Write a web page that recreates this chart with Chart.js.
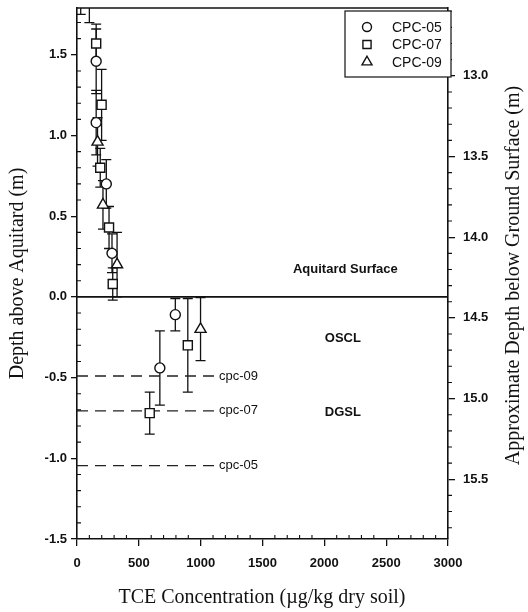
<!DOCTYPE html>
<html><head><meta charset="utf-8">
<script src="https://cdn.jsdelivr.net/npm/chart.js@4/dist/chart.umd.min.js"></script>
<style>html,body{margin:0;padding:0;background:#fff}#wrap{width:528px;height:612px;position:relative}</style>
</head><body><div id="wrap"><canvas id="c" width="528" height="612"></canvas></div>
<script>
// ---- data ----
const seriesNames = ['CPC-05', 'CPC-07', 'CPC-09'];
const cpc05X = [100, 155, 155, 237, 283, 795, 670];
const cpc05Y = [1.95, 1.46, 1.08, 0.70, 0.27, -0.11, -0.44];
const cpc05Err = [0.25, 0.20, 0.20, 0.15, 0.12, 0.10, 0.23];
const cpc07X = [155, 199, 188, 259, 289, 896, 588];
const cpc07Y = [1.57, 1.19, 0.80, 0.43, 0.08, -0.30, -0.72];
const cpc07Err = [0.12, 0.22, 0.12, 0.13, 0.10, 0.29, 0.13];
const cpc09X = [30, 166, 210, 324, 999];
const cpc09Y = [1.95, 0.96, 0.57, 0.20, -0.20];
const cpc09Err = [0.20, 0.15, 0.15, 0.20, 0.195];
const boundaryNames = ['cpc-09', 'cpc-07', 'cpc-05'];
const boundaryDepth = [-0.49, -0.706, -1.045];
const boundaryEndX = [1140, 1140, 1140];
const xTicks = [0, 500, 1000, 1500, 2000, 2500, 3000];
const yTicks = [-1.5, -1.0, -0.5, 0.0, 0.5, 1.0, 1.5];
const y2Ticks = [13.0, 13.5, 14.0, 14.5, 15.0, 15.5];
const surfaceDepth = 14.37; // ground depth of aquitard surface (m)
const zoneLabels = ['Aquitard Surface', 'OSCL', 'DGSL'];
const zoneX = [2170, 2150, 2150];
const zoneY = [0.17, -0.26, -0.715];

const Y_MIN = -1.5, Y_MAX = 1.79;
const X_MIN = 0, X_MAX = 3000;

function pts(xs, ys) { return xs.map((x, i) => ({x: x, y: ys[i]})); }

const markerDefs = [
  {style: 'circle', r: 5},
  {style: 'rect', r: 6.4},
  {style: 'triangle', r: 6.4}
];
const seriesX = [cpc05X, cpc07X, cpc09X];
const seriesY = [cpc05Y, cpc07Y, cpc09Y];
const seriesErr = [cpc05Err, cpc07Err, cpc09Err];

const datasets = seriesNames.map((n, i) => ({
  type: 'scatter',
  label: n,
  data: pts(seriesX[i], seriesY[i]),
  errors: seriesErr[i],
  pointStyle: markerDefs[i].style,
  pointRadius: markerDefs[i].r,
  pointHoverRadius: markerDefs[i].r,
  pointBackgroundColor: '#fff',
  pointBorderColor: '#111',
  pointBorderWidth: 1.4,
  showLine: false
}));
boundaryNames.forEach((n, i) => {
  datasets.push({
    type: 'line', label: n, boundary: true,
    data: [{x: X_MIN, y: boundaryDepth[i]}, {x: boundaryEndX[i], y: boundaryDepth[i]}],
    borderColor: '#222', borderWidth: 1.3, borderDash: [11, 7],
    pointRadius: 0, fill: false
  });
});
datasets.push({
  type: 'line', label: 'surface',
  data: [{x: X_MIN, y: 0}, {x: X_MAX, y: 0}],
  borderColor: '#111', borderWidth: 1.6, pointRadius: 0, fill: false
});

const errorBars = {
  id: 'errorBars',
  beforeDatasetsDraw(chart) {
    const ctx = chart.ctx, a = chart.chartArea, xs = chart.scales.x, ys = chart.scales.y;
    ctx.save();
    ctx.beginPath(); ctx.rect(a.left, a.top, a.right - a.left, a.bottom - a.top); ctx.clip();
    ctx.strokeStyle = '#111'; ctx.lineWidth = 1.3;
    chart.data.datasets.forEach(ds => {
      if (!ds.errors) return;
      ds.data.forEach((p, j) => {
        const x = xs.getPixelForValue(p.x);
        const y1 = ys.getPixelForValue(p.y + ds.errors[j]);
        const y2 = ys.getPixelForValue(p.y - ds.errors[j]);
        ctx.beginPath();
        ctx.moveTo(x, y1); ctx.lineTo(x, y2);
        ctx.moveTo(x - 5, y1); ctx.lineTo(x + 5, y1);
        ctx.moveTo(x - 5, y2); ctx.lineTo(x + 5, y2);
        ctx.stroke();
      });
    });
    ctx.restore();
  }
};

const extras = {
  id: 'extras',
  afterDraw(chart) {
    const ctx = chart.ctx, a = chart.chartArea;
    const xs = chart.scales.x, ys = chart.scales.y, y2s = chart.scales.y2;
    ctx.save();
    ctx.strokeStyle = '#111'; ctx.fillStyle = '#111';
    // top frame
    ctx.beginPath(); ctx.moveTo(a.left, a.top); ctx.lineTo(a.right, a.top); ctx.lineWidth = 1.6; ctx.stroke();
    ctx.lineWidth = 1.1;
    // minor ticks
    ctx.beginPath();
    for (let v = X_MIN; v <= X_MAX + 1e-6; v += 100) {
      if (Math.abs(v % 500) < 1e-6) continue;
      const px = xs.getPixelForValue(v);
      ctx.moveTo(px, a.bottom); ctx.lineTo(px, a.bottom - 4);
    }
    for (let k = -15; k <= 17; k++) {
      const v = k / 10;
      if (k % 5 === 0) continue;
      const py = ys.getPixelForValue(v);
      ctx.moveTo(a.left, py); ctx.lineTo(a.left + 4, py);
    }
    for (let k = 126; k <= 158; k++) {
      const v = k / 10;
      if (k % 5 === 0) continue;
      const py = y2s.getPixelForValue(v);
      if (py < a.top || py > a.bottom) continue;
      ctx.moveTo(a.right, py); ctx.lineTo(a.right + 4, py);
    }
    ctx.stroke();
    // boundary labels
    ctx.font = '13px "Liberation Sans", Arial, sans-serif';
    ctx.textAlign = 'left'; ctx.textBaseline = 'middle';
    chart.data.datasets.forEach((ds, i) => {
      if (!ds.boundary) return;
      const m = chart.getDatasetMeta(i);
      const e = m.data[m.data.length - 1];
      ctx.fillText(ds.label, e.x + 1, e.y);
    });
    // zone labels
    ctx.font = 'bold 13px "Liberation Sans", Arial, sans-serif';
    ctx.textAlign = 'center';
    zoneLabels.forEach((t, i) => {
      ctx.fillText(t, xs.getPixelForValue(zoneX[i]), ys.getPixelForValue(zoneY[i]));
    });
    // legend
    const lb = {l: 345, t: 11, r: 451, b: 77};
    ctx.fillStyle = '#fff';
    ctx.fillRect(lb.l, lb.t, lb.r - lb.l, lb.b - lb.t);
    ctx.lineWidth = 1.2; ctx.strokeStyle = '#111';
    ctx.strokeRect(lb.l, lb.t, lb.r - lb.l, lb.b - lb.t);
    ctx.font = '14px "Liberation Sans", Arial, sans-serif';
    ctx.textAlign = 'left'; ctx.fillStyle = '#111';
    seriesNames.forEach((n, i) => {
      const ry = 27 + i * 17.5;
      const ds = chart.data.datasets[i];
      ctx.save();
      ctx.fillStyle = '#fff'; ctx.strokeStyle = '#111'; ctx.lineWidth = 1.4;
      Chart.helpers.drawPoint(ctx, {pointStyle: ds.pointStyle, radius: ds.pointRadius * 0.9, borderWidth: 1.4}, 367, ry);
      ctx.restore();
      ctx.fillText(n, 392, ry + 1);
    });
    // axis titles
    ctx.font = '20px "Liberation Serif", "Times New Roman", serif';
    ctx.fillStyle = '#111'; ctx.textAlign = 'center'; ctx.textBaseline = 'middle';
    ctx.fillText('TCE Concentration (\u00b5g/kg dry soil)', 262, 598);
    const midY = (a.top + a.bottom) / 2;
    ctx.save(); ctx.translate(18, midY); ctx.rotate(-Math.PI / 2);
    ctx.fillText('Depth above Aquitard (m)', 0, 0); ctx.restore();
    ctx.save(); ctx.translate(514, midY + 2); ctx.rotate(-Math.PI / 2);
    ctx.fillText('Approximate Depth below Ground Surface (m)', 0, 0); ctx.restore();
    ctx.restore();
  }
};

const tickFont = {family: '"Liberation Sans", Arial, sans-serif', size: 13, weight: 'bold'};
const gridCommon = {drawOnChartArea: false, drawTicks: true, color: '#111', lineWidth: 1.3};
const borderCommon = {display: true, color: '#111', width: 1.6};
function fitV(w) { return s => { s.width = w; s.paddingTop = 0; s.paddingBottom = 0; }; }

new Chart(document.getElementById('c'), {
  type: 'scatter',
  data: {datasets: datasets},
  options: {
    responsive: false, animation: false,
    layout: {padding: {top: 8, left: 0, right: 0, bottom: 0}},
    plugins: {legend: {display: false}, tooltip: {enabled: false}},
    scales: {
      x: {
        type: 'linear', position: 'bottom', min: X_MIN, max: X_MAX,
        afterBuildTicks: s => { s.ticks = xTicks.map(v => ({value: v})); },
        afterFit: s => { s.height = 73; s.paddingLeft = 0; s.paddingRight = 0; },
        ticks: {font: tickFont, color: '#111', padding: 10, maxRotation: 0, autoSkip: false, callback: v => String(v)},
        grid: Object.assign({}, gridCommon, {tickLength: 7}),
        border: borderCommon
      },
      y: {
        type: 'linear', position: 'left', min: Y_MIN, max: Y_MAX,
        afterBuildTicks: s => { s.ticks = yTicks.map(v => ({value: v})); },
        afterFit: fitV(77),
        ticks: {font: tickFont, color: '#111', padding: 4, autoSkip: false, callback: v => v.toFixed(1)},
        grid: Object.assign({}, gridCommon, {tickLength: 6}),
        border: borderCommon
      },
      y2: {
        type: 'linear', position: 'right', reverse: true,
        min: surfaceDepth - Y_MAX, max: surfaceDepth - Y_MIN,
        afterBuildTicks: s => { s.ticks = y2Ticks.map(v => ({value: v})); },
        afterFit: fitV(80),
        ticks: {font: tickFont, color: '#111', padding: 8, autoSkip: false, callback: v => v.toFixed(1)},
        grid: Object.assign({}, gridCommon, {tickLength: 7}),
        border: borderCommon
      }
    }
  },
  plugins: [errorBars, extras]
});
</script>
</body></html>
